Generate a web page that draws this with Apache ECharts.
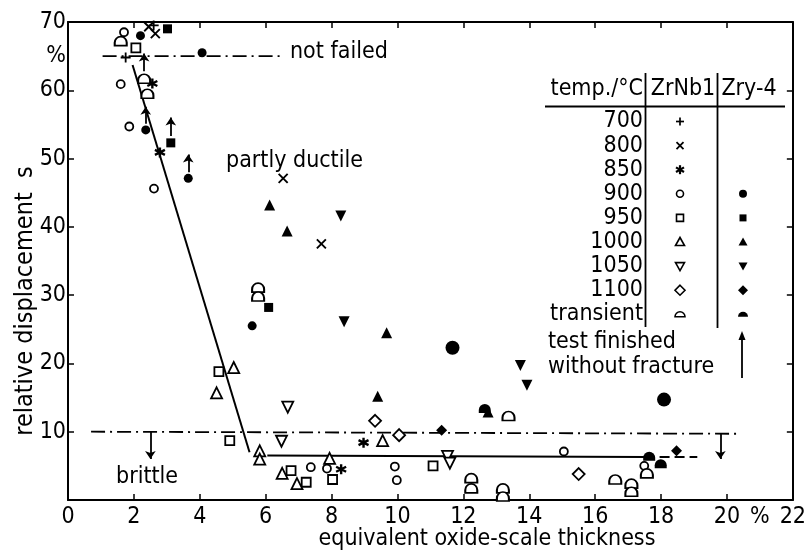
<!DOCTYPE html>
<html>
<head>
<meta charset="utf-8">
<script src="https://cdn.jsdelivr.net/npm/echarts@6/dist/echarts.min.js"></script>
<style>
html,body{margin:0;padding:0;background:#fff;}
#chart{width:809px;height:551px;}
</style>
</head>
<body>
<div id="chart"></div>
<script>
// ---------- data ----------
const xTicks = [0, 2, 4, 6, 8, 10, 12, 14, 16, 18, 20, 22];
const yTicks = [10, 20, 30, 40, 50, 60, 70];

// ZrNb1 (open / line symbols)  [x = oxide thickness %, y = relative displacement %]
const zrnb700 = [[1.75, 64.8], [2.6, 69.5]];
const zrnb800 = [[2.45, 69.3], [2.65, 68.3], [6.53, 47.1], [7.69, 37.5]];
const zrnb850 = [[2.56, 61.0], [2.79, 50.9], [8.97, 8.4], [8.29, 4.5]];
const zrnb900 = [[1.7, 68.5], [1.6, 60.9], [1.86, 54.7], [2.61, 45.6], [7.37, 4.8], [7.86, 4.6],
                 [9.92, 4.9], [9.98, 2.9], [15.05, 7.1], [17.49, 5.0]];
const zrnb950 = [[2.06, 66.2], [4.58, 18.8], [4.91, 8.7], [6.77, 4.3], [7.23, 2.6], [8.03, 3.0], [11.08, 5.0]];
const zrnb1000 = [[5.03, 19.4], [4.51, 15.7], [9.55, 8.7], [5.82, 7.2], [5.82, 6.0], [7.94, 6.1], [6.50, 3.9], [6.95, 2.4]];
const zrnb1050 = [[6.67, 13.6], [6.48, 8.6], [11.52, 6.4], [11.59, 5.4]];
const zrnb1100 = [[9.32, 11.6], [10.05, 9.5], [15.5, 3.8]];
const zrnbTransient = [[1.6, 67.2], [2.31, 61.7], [2.41, 59.5], [5.77, 31.1], [5.77, 29.8], [13.37, 12.3],
                       [12.24, 3.2], [12.24, 1.7], [13.2, 1.7], [13.2, 0.5], [16.61, 3.0], [17.1, 2.4],
                       [17.1, 1.2], [17.57, 3.9]];

// Zry-4 (filled symbols)
const zry900 = [[2.2, 68.0], [4.07, 65.5], [2.36, 54.2], [3.65, 47.1], [5.59, 25.5]];
const zry900Large = [[11.67, 22.3], [18.09, 14.7]];
const zry950 = [[3.02, 69.0], [3.12, 52.3], [6.09, 28.2]];
const zry1000 = [[6.12, 43.2], [6.65, 39.4], [9.67, 24.5], [9.40, 15.2], [12.75, 12.9]];
const zry1050 = [[8.28, 41.6], [8.38, 26.1], [13.73, 19.7], [13.93, 16.8]];
const zry1100 = [[11.34, 10.2], [18.47, 7.2]];
const zryTransient = [[12.65, 13.4], [17.64, 6.4], [17.99, 5.3]];

// test finished without fracture: [x, yFrom, yTo]
const testFinished = [[2.31, 62.8, 65.4], [2.36, 55.1, 57.6], [3.12, 53.3, 56.0], [3.65, 48.0, 50.6]];

// boundary / trend lines
const notFailedLine = [[1.05, 65], [6.45, 65]];
const brittleLine = [[0.7, 10], [20.3, 9.7]];
const ductileFit = [[1.96, 63.7], [5.51, 7.0]];
const lowerFit = [[6.05, 6.5], [17.5, 6.3]];
const lowerFitDashed = [[17.5, 6.3], [19.1, 6.3]];
const brittleArrows = [[2.5, 10, 6.0], [19.8, 9.7, 6.0]];

const legendTemps = ['700', '800', '850', '900', '950', '1000', '1050', '1100', 'transient'];

// ---------- styling ----------
const FONT = "'DejaVu Sans Condensed', 'DejaVu Sans', sans-serif";
const FS = 23;
const BLK = '#000';

const SYM = {
  plus: 'path://M5 0 L5 10 M0 5 L10 5',
  cross: 'path://M0 0 L10 10 M10 0 L0 10',
  star: 'path://M5 0 L5 10 M0 2.5 L10 7.5 M0 7.5 L10 2.5',
  dome: 'path://M0 9 L0 6 A6 6 0 0 1 12 6 L12 9 Z'
};

function openS(name, data, symbol, size, rot) {
  return { type: 'scatter', name, data, symbol, symbolSize: size, symbolRotate: rot || 0, z: 5,
    itemStyle: { color: '#fff', borderColor: BLK, borderWidth: 1.8, opacity: 1 } };
}
function lineSymS(name, data, symbol, size, w) {
  return { type: 'scatter', name, data, symbol, symbolSize: size, z: 5,
    itemStyle: { color: 'rgba(0,0,0,0)', borderColor: BLK, borderWidth: w, opacity: 1 } };
}
function fillS(name, data, symbol, size, rot) {
  return { type: 'scatter', name, data, symbol, symbolSize: size, symbolRotate: rot || 0, z: 5,
    itemStyle: { color: BLK, borderColor: BLK, borderWidth: 0, opacity: 1 } };
}
function lineS(data, type, width) {
  return { type: 'line', data, showSymbol: false, symbol: 'none', z: 2, silent: true,
    lineStyle: { color: BLK, width, type } };
}

const series = [
  lineS(notFailedLine, [14, 5, 2, 5], 1.8),
  lineS(brittleLine, [14, 5, 2, 5], 1.8),
  lineS(ductileFit, 'solid', 2),
  lineS(lowerFit, 'solid', 2),
  lineS(lowerFitDashed, [10, 5], 2),
  { type: 'lines', coordinateSystem: 'cartesian2d', z: 3, symbol: ['none', 'arrow'], symbolSize: 8,
    lineStyle: { color: BLK, width: 1.8, opacity: 1 },
    data: testFinished.concat(brittleArrows).map(a => ({ coords: [[a[0], a[1]], [a[0], a[2]]] })) },
  lineSymS('700', zrnb700, SYM.plus, 10, 1.8),
  lineSymS('800', zrnb800, SYM.cross, 9, 1.9),
  lineSymS('850', zrnb850, SYM.star, 10, 2.4),
  openS('900', zrnb900, 'circle', 8),
  openS('950', zrnb950, 'rect', 9),
  openS('1000', zrnb1000, 'triangle', 11),
  openS('1050', zrnb1050, 'triangle', 11, 180),
  openS('1100', zrnb1100, 'diamond', 12),
  openS('transient', zrnbTransient, SYM.dome, [12, 9]),
  fillS('Zry 900', zry900, 'circle', 9),
  fillS('Zry 900 b', zry900Large, 'circle', 14),
  fillS('Zry 950', zry950, 'rect', 9),
  fillS('Zry 1000', zry1000, 'triangle', 11),
  fillS('Zry 1050', zry1050, 'triangle', 11, 180),
  fillS('Zry 1100', zry1100, 'diamond', 11),
  fillS('Zry transient', zryTransient, SYM.dome, [12, 9])
];

// ---------- legend table (graphic) ----------
const LX_LABEL = 643, LX_ZR = 680, LX_ZRY = 743, LY0 = 121.5, LDY = 24.1;
const g = [];
function txt(t, x, y, align, size) {
  g.push({ type: 'text', x, y, z: 10, style: { text: t, fill: BLK, font: (size || FS) + 'px ' + FONT,
    textAlign: align || 'left', textVerticalAlign: 'middle' } });
}
function ln(x1, y1, x2, y2, w) {
  g.push({ type: 'line', z: 10, shape: { x1, y1, x2, y2 }, style: { stroke: BLK, lineWidth: w || 1.5 } });
}
txt('temp./°C', LX_LABEL, 89, 'right');
txt('ZrNb1', 683, 89, 'center');
txt('Zry-4', 749, 89, 'center');
ln(545, 106.5, 785, 106.5, 1.8);
ln(645.5, 73, 645.5, 327, 1.8);
ln(717.5, 73, 717.5, 328, 1.8);
legendTemps.forEach((t, i) => txt(t, LX_LABEL, LY0 + i * LDY, 'right'));
function sym(kind, cx, cy, filled) {
  const fill = filled ? BLK : '#fff';
  const st = { fill, stroke: BLK, lineWidth: filled ? 0 : 1.6 };
  if (kind === 'plus') { ln(cx - 4, cy, cx + 4, cy, 1.7); ln(cx, cy - 4, cx, cy + 4, 1.7); }
  else if (kind === 'cross') { ln(cx - 3.5, cy - 3.5, cx + 3.5, cy + 3.5, 1.8); ln(cx + 3.5, cy - 3.5, cx - 3.5, cy + 3.5, 1.8); }
  else if (kind === 'star') { ln(cx, cy - 4.5, cx, cy + 4.5, 2.2); ln(cx - 4, cy - 2.3, cx + 4, cy + 2.3, 2.2); ln(cx - 4, cy + 2.3, cx + 4, cy - 2.3, 2.2); }
  else if (kind === 'circle') g.push({ type: 'circle', z: 10, shape: { cx, cy, r: filled ? 4 : 3.5 }, style: st });
  else if (kind === 'rect') g.push({ type: 'rect', z: 10, shape: { x: cx - 3.5, y: cy - 3.5, width: 7, height: 7 }, style: st });
  else if (kind === 'tri') g.push({ type: 'polygon', z: 10, shape: { points: [[cx, cy - 4.5], [cx + 4.5, cy + 3.5], [cx - 4.5, cy + 3.5]] }, style: st });
  else if (kind === 'itri') g.push({ type: 'polygon', z: 10, shape: { points: [[cx, cy + 4.5], [cx + 4.5, cy - 3.5], [cx - 4.5, cy - 3.5]] }, style: st });
  else if (kind === 'dia') g.push({ type: 'polygon', z: 10, shape: { points: [[cx, cy - 5], [cx + 5, cy], [cx, cy + 5], [cx - 5, cy]] }, style: st });
  else if (kind === 'dome') g.push({ type: 'sector', z: 10, shape: { cx, cy: cy + 2.5, r0: 0, r: 5, startAngle: Math.PI, endAngle: Math.PI * 2 }, style: st });
}
const zrKinds = ['plus', 'cross', 'star', 'circle', 'rect', 'tri', 'itri', 'dia', 'dome'];
zrKinds.forEach((k, i) => sym(k, LX_ZR, LY0 + i * LDY, false));
zrKinds.slice(3).forEach((k, i) => sym(k, LX_ZRY, LY0 + (i + 3) * LDY, true));
txt('test finished', 548, 342, 'left');
txt('without fracture', 548, 367, 'left');
ln(742, 378, 742, 336, 1.8);
g.push({ type: 'polygon', z: 10, shape: { points: [[742, 331], [745.5, 340], [738.5, 340]] }, style: { fill: BLK } });

// annotations and axis titles
txt('not failed', 290, 52, 'left');
txt('partly ductile', 226, 161, 'left');
txt('brittle', 116, 477, 'left');
txt('equivalent oxide-scale thickness', 487, 539, 'center');
g.push({ type: 'text', x: 25, y: 301, rotation: Math.PI / 2, z: 10,
  style: { text: 'relative displacement  s', fill: BLK, font: '25px ' + FONT, textAlign: 'center', textVerticalAlign: 'middle' } });

const axisLineStyle = { color: BLK, width: 2 };
const tickStyle = { color: BLK, width: 1.5 };
const lab = { color: BLK, fontSize: FS, fontFamily: FONT };

const option = {
  animation: false,
  backgroundColor: '#fff',
  grid: { left: 68, right: 15, top: 22, bottom: 51 },
  xAxis: [
    { type: 'value', min: 0, max: 22, interval: 2, position: 'bottom',
      axisLine: { show: true, onZero: false, lineStyle: axisLineStyle },
      axisTick: { show: true, inside: true, length: 6, lineStyle: tickStyle },
      axisLabel: Object.assign({ margin: 6, formatter: v => (xTicks.indexOf(v) >= 0 ? String(v) : '') }, lab),
      splitLine: { show: false } },
    { type: 'value', min: 0, max: 22, interval: 2, position: 'top',
      axisLine: { show: true, onZero: false, lineStyle: axisLineStyle },
      axisTick: { show: true, inside: true, length: 6, lineStyle: tickStyle },
      axisLabel: { show: false }, splitLine: { show: false } },
    { type: 'value', min: 0, max: 22, interval: 1, position: 'bottom',
      axisLine: { show: false }, axisTick: { show: false },
      axisLabel: Object.assign({ margin: 6, interval: 0, formatter: v => (v === 21 ? '%' : '') }, lab),
      splitLine: { show: false } }
  ],
  yAxis: [
    { type: 'value', min: 0, max: 70, interval: 10, position: 'left',
      axisLine: { show: true, onZero: false, lineStyle: axisLineStyle },
      axisTick: { show: true, inside: true, length: 6, lineStyle: tickStyle },
      axisLabel: Object.assign({ margin: 2, formatter: v => (yTicks.indexOf(v) >= 0 ? String(v) : '') }, lab),
      splitLine: { show: false } },
    { type: 'value', min: 0, max: 70, interval: 10, position: 'right',
      axisLine: { show: true, onZero: false, lineStyle: axisLineStyle },
      axisTick: { show: true, inside: true, length: 6, lineStyle: tickStyle },
      axisLabel: { show: false }, splitLine: { show: false } },
    { type: 'value', min: 0, max: 70, interval: 5, position: 'left',
      axisLine: { show: false }, axisTick: { show: false },
      axisLabel: Object.assign({ margin: 2, interval: 0, formatter: v => (v === 65 ? '%' : '') }, lab),
      splitLine: { show: false } }
  ],
  series,
  graphic: g
};

const chart = echarts.init(document.getElementById('chart'), null, { renderer: 'canvas' });
chart.setOption(option);
</script>
</body>
</html>
